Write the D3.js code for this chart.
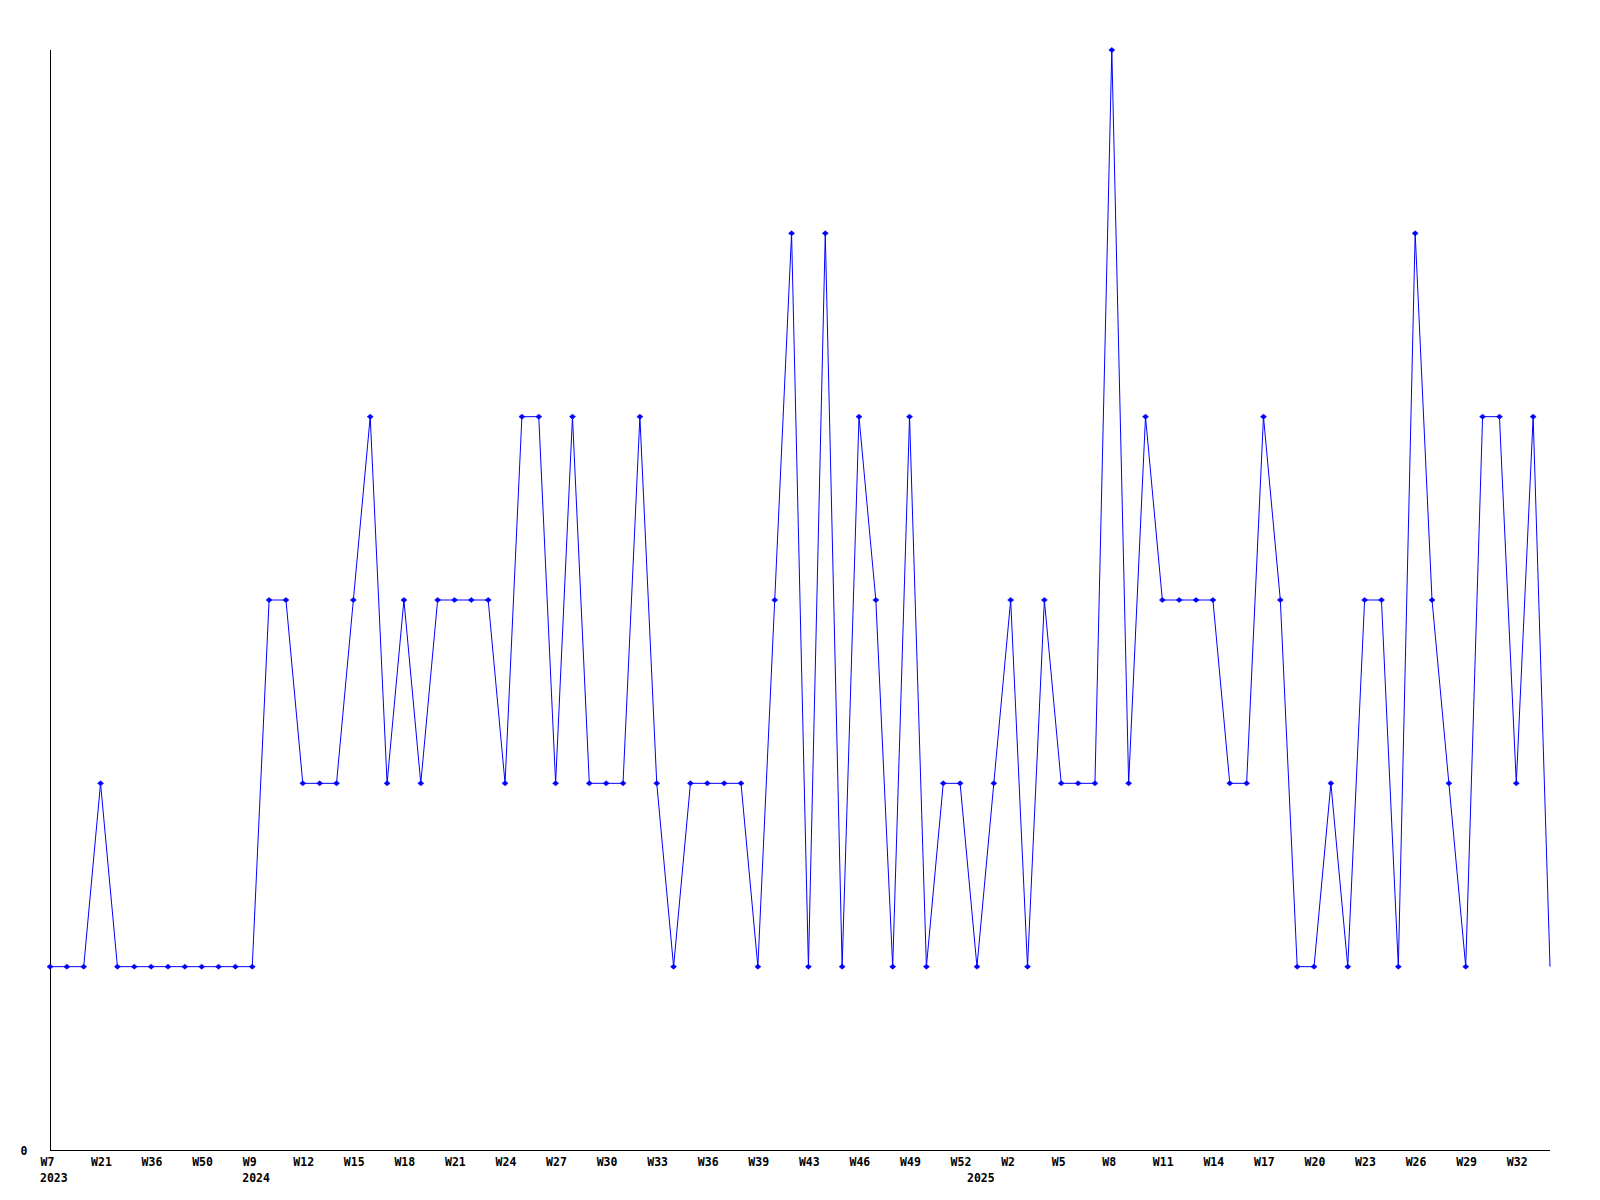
<!DOCTYPE html>
<html>
<head>
<meta charset="utf-8">
<script src="https://cdn.jsdelivr.net/npm/d3@7"></script>
<style>
  html, body { margin: 0; padding: 0; background: #fff; }
  svg { display: block; }
  text { font-family: "DejaVu Sans Mono", "Liberation Mono", monospace; font-weight: bold; font-size: 11.5px; fill: #000; }
</style>
</head>
<body>
<svg id="chart" width="1600" height="1200"></svg>
<script>
// ---- data ----
const values = [
  1,1,1,2,1,1,1,1,1,1,
  1,1,1,3,3,2,2,2,3,4,
  2,3,2,3,3,3,3,2,4,4,
  2,4,2,2,2,4,2,1,2,2,
  2,2,1,3,5,1,5,1,4,3,
  1,4,1,2,2,1,2,3,1,3,
  2,2,2,6,2,4,3,3,3,3,
  2,2,4,3,1,1,2,1,3,3,
  1,5,3,2,1,4,4,2,4,1
];
const weekTickLabels = [
  "W7","W21","W36","W50","W9","W12","W15","W18","W21","W24",
  "W27","W30","W33","W36","W39","W43","W46","W49","W52","W2",
  "W5","W8","W11","W14","W17","W20","W23","W26","W29","W32"
];
const tickStep = 3;
const yearLabels = ["2023","2024","2025"];
const yearIndex = [0, 12, 55];
const yTickValues = [0];
const yMax = 6;

// ---- layout ----
const plotLeft = 50, plotRight = 1550, plotTop = 50, plotBottom = 1150;
const svg = d3.select("#chart");

const x = d3.scaleLinear().domain([0, values.length - 1]).range([plotLeft, plotRight]);
const y = d3.scaleLinear().domain([0, yMax]).range([plotBottom, plotTop]);

// axes
const xTicks = weekTickLabels.map((_, i) => i * tickStep);
const xAxis = d3.axisBottom(x)
  .tickValues(xTicks)
  .tickSize(0)
  .tickFormat((d, i) => weekTickLabels[i]);
const gx = svg.append("g").attr("transform", `translate(0,${plotBottom + 0.5})`).call(xAxis);
gx.attr("font-family", null).attr("font-size", null);
gx.select(".domain").attr("stroke", "#000").attr("d", `M${plotLeft},0H${plotRight}`);
gx.selectAll(".tick text")
  .attr("text-anchor", "start")
  .attr("x", -10)
  .attr("y", 15.5)
  .attr("dy", null)
  .attr("fill", "#000");

// year labels
svg.append("g").selectAll("text").data(yearLabels).join("text")
  .attr("x", (d, i) => x(yearIndex[i]) - 10)
  .attr("y", plotBottom + 32)
  .attr("text-anchor", "start")
  .text(d => d);

const yAxis = d3.axisLeft(y).tickValues(yTickValues).tickSize(0).tickFormat(d3.format("d"));
const gy = svg.append("g").attr("transform", `translate(${plotLeft + 0.5},0)`).call(yAxis);
gy.attr("font-family", null).attr("font-size", null);
gy.select(".domain").attr("stroke", "#000").attr("d", `M0,${plotTop}V${plotBottom}`);
gy.selectAll(".tick text").attr("x", -23).attr("dy", "0.35em").attr("fill", "#000");

// line
const line = d3.line().x((d, i) => x(i)).y(d => y(d));
svg.append("path")
  .datum(values)
  .attr("fill", "none")
  .attr("stroke", "#0000ff")
  .attr("stroke-width", 1)
  .attr("d", line);

// markers (last point has none)
const markerData = values.slice(0, values.length - 1);
svg.append("g").selectAll("path").data(markerData).join("path")
  .attr("transform", (d, i) => `translate(${x(i)},${y(d)})`)
  .attr("d", "M-3,0L0,-2.5L3,0L0,2.5Z")
  .attr("fill", "#0000ff")
  .attr("stroke", "#0000ff")
  .attr("stroke-width", 0.6);
</script>
</body>
</html>
